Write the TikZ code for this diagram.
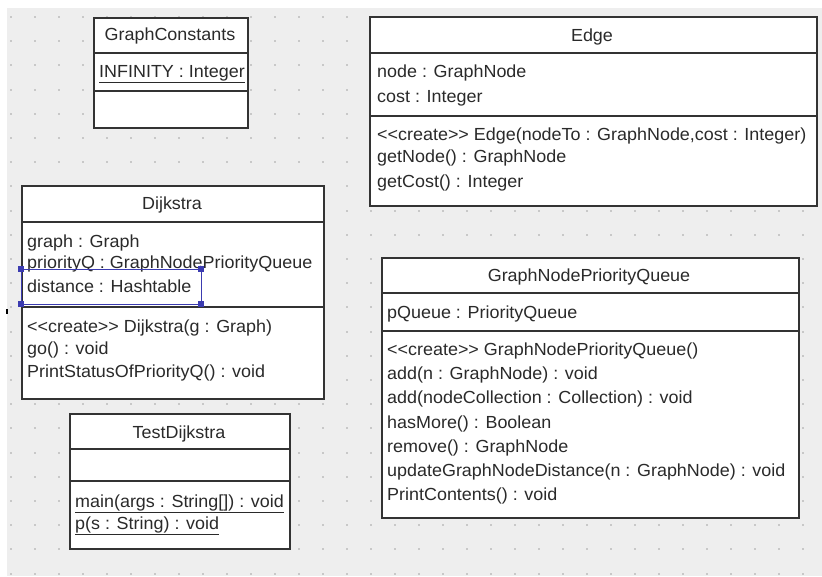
\documentclass[tikz,border=0pt]{standalone}
\usepackage{fontspec}
\setmainfont[FakeStretch=1.025]{Liberation Sans}
\definecolor{canvas}{HTML}{EEEEEE}
\definecolor{gridc}{HTML}{C8C8C8}
\definecolor{frame}{HTML}{333333}
\definecolor{ink}{HTML}{2A2A2A}
\definecolor{selc}{HTML}{3B3BB0}
\newcommand{\umlfont}{\fontsize{17.5}{24}\selectfont}
\begin{document}
\begin{tikzpicture}[x=1pt,y=-1pt,
  umlbox/.style={draw=frame,line width=1.5pt,fill=white,rectangle,inner sep=0pt,anchor=north west},
  sepline/.style={draw=frame,line width=1.2pt},
  member/.style={anchor=base west,inner sep=0pt,text=ink,font=\umlfont},
  title/.style={anchor=base,inner sep=0pt,text=ink,font=\umlfont},
  handle/.style={fill=selc,draw=none}]
\useasboundingbox (0,0) rectangle (822,576);
% canvas and dotted grid
\fill[white] (0,0) rectangle (822,576);
\fill[canvas] (7,8) rectangle (822,576);
\foreach \i in {0,...,33}{
  \foreach \j in {0,...,23}{
    \fill[gridc] ({10+24*\i},{16+24.2*\j}) rectangle ++(2,2);
  }
}
% GraphConstants
\node[umlbox,minimum width=154pt,minimum height=110pt] (gc) at (93,17) {};
\draw[sepline] (gc.west |- 0,53) -- (gc.east |- 0,53);
\draw[sepline] (gc.west |- 0,91) -- (gc.east |- 0,91);
\node[title] (gcT) at (170,40) {GraphConstants};
\node[member] (gcA1) at (99,77.5) {\underline{INFINITY : Integer}};
% Edge
\node[umlbox,minimum width=447pt,minimum height=189pt] (ed) at (369,16) {};
\draw[sepline] (ed.west |- 0,53) -- (ed.east |- 0,53);
\draw[sepline] (ed.west |- 0,116) -- (ed.east |- 0,116);
\node[title] (edT) at (592,41) {Edge};
\node[member] (edA1) at (377,77.5) {node : GraphNode};
\node[member] (edA2) at (377,102.5) {cost : Integer};
\node[member] (edO1) at (377,140.5) {<{}<create>{}> Edge(nodeTo : GraphNode,cost : Integer)};
\node[member] (edO2) at (377,162.5) {getNode() : GraphNode};
\node[member] (edO3) at (377,187.5) {getCost() : Integer};
% Dijkstra
\node[umlbox,minimum width=302pt,minimum height=213pt] (dj) at (21,185) {};
\draw[sepline] (dj.west |- 0,222) -- (dj.east |- 0,222);
\draw[sepline] (dj.west |- 0,307) -- (dj.east |- 0,307);
\node[title] (djT) at (172,209) {Dijkstra};
\node[member] (djA1) at (27,247.5) {graph : Graph};
\node[member] (djA2) at (27,268.5) {priorityQ : GraphNodePriorityQueue};
\node[member] (djA3) at (27,292.5) {distance : Hashtable};
\node[member] (djO1) at (27,332.5) {<{}<create>{}> Dijkstra(g : Graph)};
\node[member] (djO2) at (27,354) {go() : void};
\node[member] (djO3) at (27,377.5) {PrintStatusOfPriorityQ() : void};
% selection frame around the highlighted attribute
\draw[selc,line width=1pt] (21,269) rectangle (201,304);
\foreach \hx/\hy in {21/269,201/269,21/304,201/304}{
  \fill[handle] ({\hx-3},{\hy-3}) rectangle ++(6,6);
}
\fill[black] (6,309) rectangle (8,314);
% TestDijkstra
\node[umlbox,minimum width=220pt,minimum height=135pt] (td) at (69,413) {};
\draw[sepline] (td.west |- 0,449) -- (td.east |- 0,449);
\draw[sepline] (td.west |- 0,481) -- (td.east |- 0,481);
\node[title] (tdT) at (179,438) {TestDijkstra};
\node[member] (tdO1) at (75,507) {\underline{main(args : String[]) : void}};
\node[member] (tdO2) at (75,529) {\underline{p(s : String) : void}};
% GraphNodePriorityQueue
\node[umlbox,minimum width=417pt,minimum height=260pt] (pq) at (381,257) {};
\draw[sepline] (pq.west |- 0,293) -- (pq.east |- 0,293);
\draw[sepline] (pq.west |- 0,331) -- (pq.east |- 0,331);
\node[title] (pqT) at (589,281) {GraphNodePriorityQueue};
\node[member] (pqA1) at (387,318.5) {pQueue : PriorityQueue};
\node[member] (pqO1) at (387,355.5) {<{}<create>{}> GraphNodePriorityQueue()};
\node[member] (pqO2) at (387,379.7) {add(n : GraphNode) : void};
\node[member] (pqO3) at (387,403.9) {add(nodeCollection : Collection) : void};
\node[member] (pqO4) at (387,428.1) {hasMore() : Boolean};
\node[member] (pqO5) at (387,452.3) {remove() : GraphNode};
\node[member] (pqO6) at (387,476.5) {updateGraphNodeDistance(n : GraphNode) : void};
\node[member] (pqO7) at (387,500.7) {PrintContents() : void};
\end{tikzpicture}
\end{document}
